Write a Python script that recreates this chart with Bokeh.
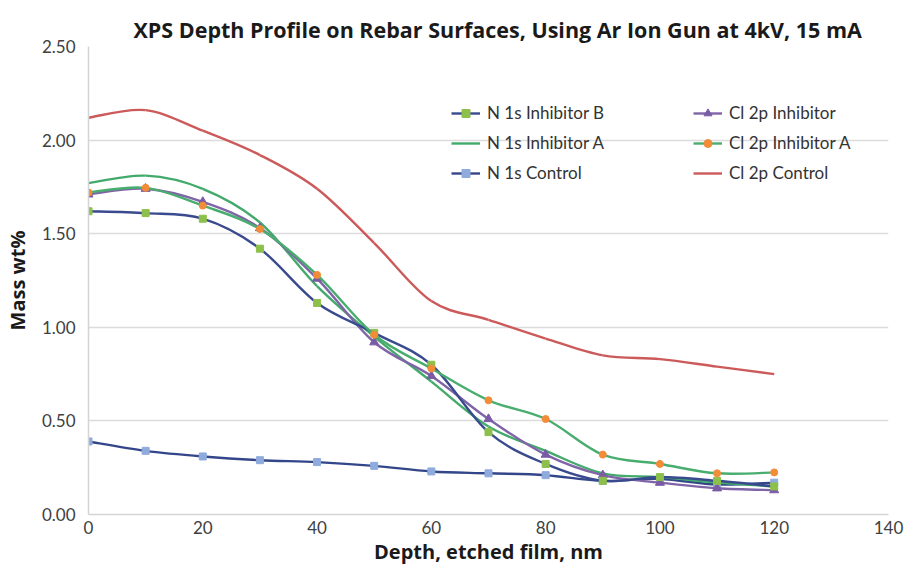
from bokeh.plotting import figure
from bokeh.models import (Legend, LegendItem, FixedTicker, NumeralTickFormatter,
                          Range1d, ColumnDataSource)
from bokeh.embed import file_html
from bokeh.resources import INLINE

# ---------------- data ----------------
depth = [0, 10, 20, 30, 40, 50, 60, 70, 80, 90, 100, 110, 120]
n1s_inhibitor_b = [1.62, 1.61, 1.58, 1.42, 1.13, 0.97, 0.80, 0.44, 0.27, 0.18, 0.20, 0.18, 0.15]
n1s_inhibitor_a = [1.77, 1.81, 1.74, 1.56, 1.22, 0.95, 0.71, 0.47, 0.34, 0.22, 0.20, 0.17, 0.15]
n1s_control = [0.39, 0.34, 0.31, 0.29, 0.28, 0.26, 0.23, 0.22, 0.21, 0.18, 0.19, 0.16, 0.17]
cl2p_inhibitor = [1.71, 1.74, 1.67, 1.53, 1.26, 0.92, 0.74, 0.51, 0.32, 0.21, 0.17, 0.14, 0.13]
cl2p_inhibitor_a = [1.72, 1.745, 1.65, 1.525, 1.28, 0.96, 0.78, 0.61, 0.51, 0.32, 0.27, 0.22, 0.225]
cl2p_control = [2.12, 2.16, 2.05, 1.92, 1.74, 1.45, 1.14, 1.04, 0.94, 0.85, 0.83, 0.79, 0.75]

x_ticks = [0, 20, 40, 60, 80, 100, 120, 140]
y_ticks = [0.0, 0.5, 1.0, 1.5, 2.0, 2.5]

FONT = "Lato"
HFONT = "Open Sans"
TXT = "#404040"

p = figure(frame_width=800, frame_height=468, output_backend="svg",
           toolbar_location=None,
           x_range=Range1d(0, 140), y_range=Range1d(0, 2.5),
           min_border_left=80, min_border_right=19, min_border_top=10,
           min_border_bottom=10, outline_line_color=None,
           title="XPS Depth Profile on Rebar Surfaces, Using Ar Ion Gun at 4kV, 15 mA")

p.title.align = "left"
p.title.offset = 45
p.title.standoff = 6
p.title.padding = dict(top=9, bottom=0, left=0, right=0)
p.title.text_font = HFONT
p.title.text_font_style = "bold"
p.title.text_font_size = "21.5px"
p.title.text_color = "#1a1a1a"

p.xgrid.grid_line_color = None
p.ygrid.grid_line_color = "#DCDCDC"
p.ygrid.grid_line_width = 1.5

for ax in (p.xaxis[0], p.yaxis[0]):
    ax.major_tick_line_color = None
    ax.minor_tick_line_color = None
    ax.major_tick_out = 0
    ax.major_tick_in = 0
    ax.minor_tick_out = 0
    ax.minor_tick_in = 0
    ax.axis_line_color = "#D4D4D4"
    ax.axis_line_width = 1.5
    ax.major_label_text_font = FONT
    ax.major_label_text_font_size = "17px"
    ax.major_label_text_color = TXT
    ax.axis_label_text_font = HFONT
    ax.axis_label_text_font_style = "bold"
    ax.axis_label_text_font_size = "20px"
    ax.axis_label_text_color = "#1a1a1a"

p.xaxis.ticker = FixedTicker(ticks=x_ticks)
p.yaxis.ticker = FixedTicker(ticks=y_ticks)
p.yaxis.formatter = NumeralTickFormatter(format="0.00")
p.xaxis.axis_label = "Depth, etched film, nm"
p.yaxis.axis_label = "Mass wt%"
p.xaxis.major_label_standoff = 6
p.xaxis.axis_label_standoff = 1
p.yaxis.major_label_standoff = 13
p.yaxis.axis_label_standoff = 8


def smooth_source(xs, ys, t=6.0):
    """Bezier segments through the data points (Excel-like smoothed line)."""
    n = len(xs)
    d = dict(x0=[], y0=[], x1=[], y1=[], cx0=[], cy0=[], cx1=[], cy1=[])
    for i in range(n - 1):
        a = max(i - 1, 0)
        b = min(i + 2, n - 1)
        d["x0"].append(xs[i]); d["y0"].append(ys[i])
        d["x1"].append(xs[i + 1]); d["y1"].append(ys[i + 1])
        d["cx0"].append(xs[i] + (xs[i + 1] - xs[a]) / t)
        d["cy0"].append(ys[i] + (ys[i + 1] - ys[a]) / t)
        d["cx1"].append(xs[i + 1] - (xs[b] - xs[i]) / t)
        d["cy1"].append(ys[i + 1] - (ys[b] - ys[i]) / t)
    return ColumnDataSource(d)


series = [
    # name, values, line colour, marker, marker colour
    ("Cl 2p Control", cl2p_control, "#CC5A5A", None, None),
    ("N 1s Control", n1s_control, "#34468A", "square", "#8FAADC"),
    ("N 1s Inhibitor A", n1s_inhibitor_a, "#43AA6C", None, None),
    ("Cl 2p Inhibitor", cl2p_inhibitor, "#8064A8", "triangle", "#7A5BA6"),
    ("N 1s Inhibitor B", n1s_inhibitor_b, "#3A4A8E", "square", "#8CC04B"),
    ("Cl 2p Inhibitor A", cl2p_inhibitor_a, "#48AD6E", "circle", "#F28C38"),
]

nan = float("nan")
legend_items = {}
for name, vals, lc, mk, mc in series:
    src = smooth_source(depth, vals)
    p.bezier(x0="x0", y0="y0", x1="x1", y1="y1", cx0="cx0", cy0="cy0",
             cx1="cx1", cy1="cy1", source=src, line_color=lc, line_width=2.4)
    rends = [p.line(x=[nan, nan], y=[nan, nan], line_color=lc, line_width=2.4)]
    if mk:
        size = {"square": 7, "triangle": 9, "circle": 7}[mk]
        rends.append(p.scatter(x=depth, y=vals, marker=mk, size=size,
                               fill_color=mc, line_color=mc))
    legend_items[name] = LegendItem(label=name, renderers=rends)


def make_legend(names, x, y):
    lg = Legend(items=[legend_items[n] for n in names], location=(x, y),
                orientation="vertical", padding=0, margin=0,
                border_line_alpha=0, background_fill_alpha=0,
                glyph_width=29, glyph_height=20, label_height=20,
                label_standoff=7, spacing=9,
                label_text_font=FONT, label_text_font_size="17px",
                label_text_color="#333333")
    p.add_layout(lg, "center")


make_legend(["N 1s Inhibitor B", "N 1s Inhibitor A", "N 1s Control"], 363, 331)
make_legend(["Cl 2p Inhibitor", "Cl 2p Inhibitor A", "Cl 2p Control"], 605, 331)

open("out.html", "w").write(file_html(p, INLINE))
